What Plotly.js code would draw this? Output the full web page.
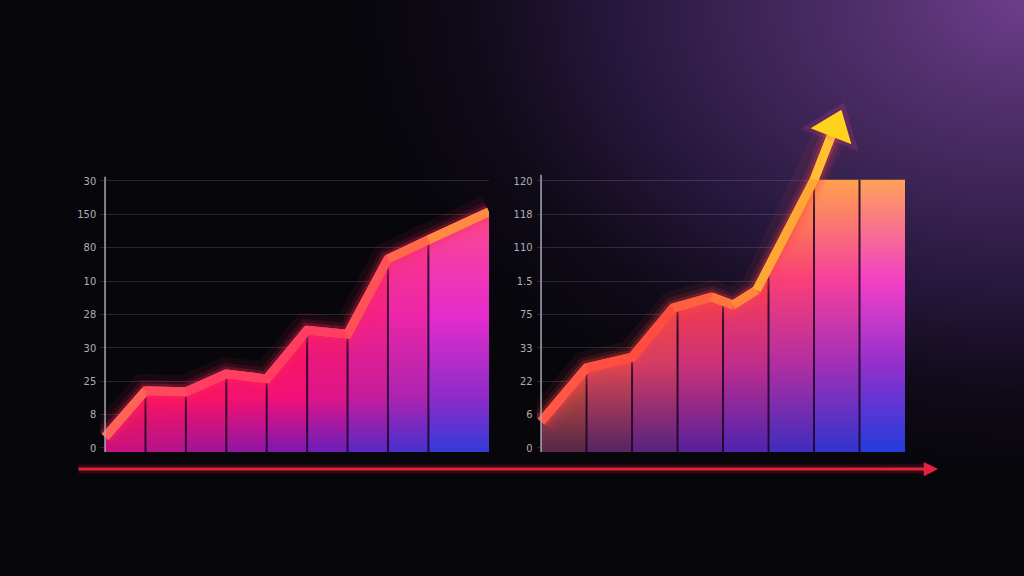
<!DOCTYPE html>
<html>
<head>
<meta charset="utf-8">
<script src="https://cdn.plot.ly/plotly-3.0.1.min.js"></script>
<style>
html, body { margin: 0; padding: 0; width: 1024px; height: 576px; overflow: hidden;
  background: #07060b radial-gradient(ellipse 680px 480px at 100% 0%, #6d3d8c 0%, #54306f 20%, #3a2352 43%, #24163a 62%, #0f0a17 82%, #07060b 100%); }
#plot { width: 1024px; height: 576px; }
</style>
</head>
<body>
<div id="plot"></div>
<script>
// left chart
var leftX = [0, 1, 2, 3, 4, 5, 6, 7, 8, 9.5];
var leftY = [0.33, 1.71, 1.68, 2.22, 2.07, 3.53, 3.41, 5.66, 6.23, 7.07];
var leftTicks = ['0', '8', '25', '30', '28', '10', '80', '150', '30'];

// right chart
var rightX = [0, 1, 2, 2.9, 3.75, 4.22, 4.74, 6, 7, 8];
var rightY = [0.79, 2.4, 2.72, 4.19, 4.52, 4.28, 4.73, 8.03, 8.03, 8.03];
var rightEdges = [0, 1, 2, 3, 4, 5, 6, 7, 8];
var rightTicks = ['0', '6', '22', '33', '75', '1.5', '110', '118', '120'];
var arrowX = 6.45, arrowY = 9.6;

var tickVals = [0, 1, 2, 3, 4, 5, 6, 7, 8];
var baseY = -0.12;

// colour helpers
function hex(c) { return [parseInt(c.slice(1, 3), 16), parseInt(c.slice(3, 5), 16), parseInt(c.slice(5, 7), 16)]; }
function rgb(c) { return typeof c === 'string' ? hex(c) : c; }
function lerp(a, b, t) { a = rgb(a); b = rgb(b); return a.map(function (v, i) { return v + (b[i] - v) * t; }); }
function css(a) { return 'rgb(' + rgb(a).map(Math.round).join(',') + ')'; }
function along(list, u) {
  var n = list.length - 1, k = Math.max(0, Math.min(n - 1, Math.floor(u * n)));
  return lerp(list[k], list[k + 1], u * n - k);
}

var leftPal = {
  stops: [0, 1.5, 4, 7.2],
  grid: [['#d01078', '#ff1555', '#ff1a52', '#ff2a60'],
         ['#8018b0', '#f0107a', '#ff1858', '#ff2a68'],
         ['#2a40e0', '#7a30d8', '#e030e0', '#ff5090']]
};
var rightPal = {
  stops: [0, 2.5, 5, 8],
  grid: [['#5a2a3a', '#e85535', '#ff6a35', '#ffa030'],
         ['#5a20a8', '#c82c80', '#ff3c40', '#ffa030'],
         ['#2040e0', '#8a30d8', '#f040d8', '#ffa060']]
};
var leftLine = ['#ff7050', '#ff3e62', '#ff3e62', '#ff3e62', '#ff6a48', '#ffa040'];
var rightLine = ['#ff5a48', '#ff5040', '#ff4a40', '#ff7040', '#ffa035', '#ffc830'];

function yAt(xs, ys, x) {
  for (var i = 0; i < xs.length - 1; i++) {
    if (x >= xs[i] && x <= xs[i + 1]) return ys[i] + (ys[i + 1] - ys[i]) * (x - xs[i]) / (xs[i + 1] - xs[i]);
  }
  return ys[ys.length - 1];
}

function columns(xs, ys, edges, pal, xa, ya) {
  var out = [], last = pal.stops.length - 1, xmax = edges[edges.length - 1];
  for (var c = 0; c < edges.length - 1; c++) {
    var a = edges[c], b = edges[c + 1];
    var px = [a], py = [yAt(xs, ys, a)];
    xs.forEach(function (x, i) { if (x > a && x < b) { px.push(x); py.push(ys[i]); } });
    px.push(b, b, a); py.push(yAt(xs, ys, b), baseY, baseY);
    var u = (a + b) / 2 / xmax;
    var scale = pal.stops.map(function (s, j) {
      return [(s - pal.stops[0]) / (pal.stops[last] - pal.stops[0]),
              css(along(pal.grid.map(function (g) { return g[j]; }), u))];
    });
    out.push({
      x: px, y: py, xaxis: xa, yaxis: ya, type: 'scatter', mode: 'lines', fill: 'toself',
      line: { width: 0 }, hoverinfo: 'skip',
      fillgradient: { type: 'vertical', start: pal.stops[0], stop: pal.stops[last], colorscale: scale }
    });
  }
  return out;
}

function dividers(xs, ys, edges, xa, ya) {
  var dx = [], dy = [];
  edges.slice(1, -1).forEach(function (e) { dx.push(e, e, null); dy.push(baseY, yAt(xs, ys, e), null); });
  return { x: dx, y: dy, xaxis: xa, yaxis: ya, type: 'scatter', mode: 'lines',
           line: { color: 'rgba(28,6,36,0.85)', width: 2 }, hoverinfo: 'skip' };
}

function glowLine(xs, ys, xa, ya, color) {
  return [[34, '0.07'], [22, '0.12'], [15, '0.22']].map(function (g) {
    return { x: xs, y: ys, xaxis: xa, yaxis: ya, type: 'scatter', mode: 'lines', hoverinfo: 'skip',
             line: { color: color.replace('A', g[1]), width: g[0] } };
  });
}

function gradLine(xs, ys, xa, ya, pal, base) {
  var out = [{ x: xs, y: ys, xaxis: xa, yaxis: ya, type: 'scatter', mode: 'lines', hoverinfo: 'skip',
               line: { color: base, width: 9 } }];
  var xmax = xs[xs.length - 1];
  for (var i = 0; i < xs.length - 1; i++) {
    out.push({ x: [xs[i], xs[i + 1]], y: [ys[i], ys[i + 1]], xaxis: xa, yaxis: ya, type: 'scatter',
               mode: 'lines', hoverinfo: 'skip',
               line: { color: css(along(pal, (xs[i] + xs[i + 1]) / 2 / xmax)), width: 9 } });
  }
  return out;
}

var rightLineX = rightX.slice(0, 8).concat([arrowX]);
var rightLineY = rightY.slice(0, 8).concat([arrowY]);

var data = []
  .concat(columns(leftX, leftY, leftX, leftPal, 'x', 'y'))
  .concat([dividers(leftX, leftY, leftX, 'x', 'y')])
  .concat(glowLine(leftX, leftY, 'x', 'y', 'rgba(255,40,90,A)'))
  .concat(gradLine(leftX, leftY, 'x', 'y', leftLine, '#ff4a5a'))
  .concat(columns(rightX, rightY, rightEdges, rightPal, 'x2', 'y2'))
  .concat([dividers(rightX, rightY, rightEdges, 'x2', 'y2')])
  .concat(glowLine(rightLineX, rightLineY, 'x2', 'y2', 'rgba(255,70,70,A)'))
  .concat(gradLine(rightLineX, rightLineY, 'x2', 'y2', rightLine, '#ff5a40'));

// arrow head at the end of the right line
data.push({
  x: [rightX[7], arrowX], y: [rightY[7], arrowY], xaxis: 'x2', yaxis: 'y2', type: 'scatter',
  mode: 'markers', cliponaxis: false, hoverinfo: 'skip',
  marker: { size: [0, 54], symbol: 'triangle-up', angleref: 'previous', opacity: 1,
            color: 'rgba(255,70,130,0.16)', line: { width: 0 } }
});
data.push({
  x: [rightX[7], arrowX], y: [rightY[7], arrowY], xaxis: 'x2', yaxis: 'y2', type: 'scatter',
  mode: 'markers', cliponaxis: false, hoverinfo: 'skip',
  marker: { size: [0, 38], symbol: 'triangle-up', angleref: 'previous', opacity: 1,
            color: '#ffd21e', line: { width: 0 } }
});

var yBase = {
  domain: [0.2153, 0.8368], range: [baseY, 10.6], tickvals: tickVals,
  showgrid: true, gridcolor: 'rgba(150,150,175,0.22)', gridwidth: 1,
  zeroline: false, showline: false, ticks: '', ticklabelstandoff: 3, fixedrange: true,
  tickfont: { family: 'Liberation Sans Narrow, DejaVu Sans Condensed, sans-serif', size: 11, color: '#aeaeba' }
};
var xBase = { showgrid: false, zeroline: false, showline: false, showticklabels: false, fixedrange: true };

var layout = {
  width: 1024, height: 576,
  margin: { l: 0, r: 0, t: 0, b: 0 },
  paper_bgcolor: 'rgba(0,0,0,0)', plot_bgcolor: 'rgba(0,0,0,0)',
  showlegend: false,
  xaxis: Object.assign({}, xBase, { domain: [100.2 / 1024, 489 / 1024], range: [-0.12, 9.5], anchor: 'y' }),
  yaxis: Object.assign({}, yBase, { ticktext: leftTicks, anchor: 'x' }),
  xaxis2: Object.assign({}, xBase, { domain: [536.5 / 1024, 905 / 1024], range: [-0.1, 8], anchor: 'y2' }),
  yaxis2: Object.assign({}, yBase, { ticktext: rightTicks, anchor: 'x2' }),
  shapes: [
    { type: 'line', xref: 'x', yref: 'y', x0: 0, x1: 0, y0: baseY, y1: 8.12, line: { color: '#a9a9b8', width: 1.5 } },
    { type: 'line', xref: 'x2', yref: 'y2', x0: 0, x1: 0, y0: baseY, y1: 8.18, line: { color: '#a9a9b8', width: 1.5 } }
  ],
  annotations: [
    { xref: 'paper', yref: 'paper', x: 932 / 1024, y: 107 / 576, ax: -855, ay: 0, text: '',
      showarrow: true, arrowhead: 0, arrowwidth: 9, arrowcolor: 'rgba(230,30,60,0.18)' },
    { xref: 'paper', yref: 'paper', x: 938 / 1024, y: 107 / 576, ax: -861, ay: 0, text: '',
      showarrow: true, arrowhead: 2, arrowsize: 0.95, arrowwidth: 3, arrowcolor: '#e4223f' }
  ]
};

Plotly.newPlot('plot', data, layout, { staticPlot: true });
</script>
</body>
</html>
